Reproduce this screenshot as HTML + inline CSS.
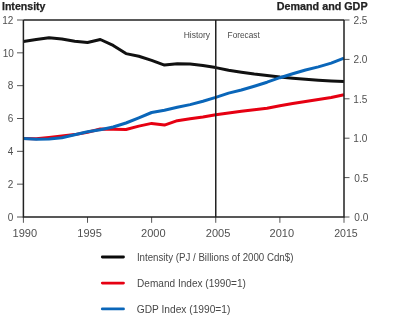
<!DOCTYPE html>
<html><head><meta charset="utf-8"><style>
html,body{margin:0;padding:0;background:#fff;}
svg{display:block;will-change:transform;}
text{font-family:"Liberation Sans",sans-serif;fill:#333;}
.ax{fill:#505050;}
.lg{fill:#484848;}
.sm{fill:#4a4a4a;}
.ttl{font-weight:bold;fill:#222;stroke:#222;stroke-width:0.25px;}
</style></head><body>
<svg width="400" height="322" viewBox="0 0 400 322">
<line x1="17" y1="217.00" x2="23.4" y2="217.00" stroke="#555" stroke-width="1.0"/>
<line x1="17" y1="184.17" x2="23.4" y2="184.17" stroke="#555" stroke-width="1.0"/>
<line x1="17" y1="151.33" x2="23.4" y2="151.33" stroke="#555" stroke-width="1.0"/>
<line x1="17" y1="118.50" x2="23.4" y2="118.50" stroke="#555" stroke-width="1.0"/>
<line x1="17" y1="85.67" x2="23.4" y2="85.67" stroke="#555" stroke-width="1.0"/>
<line x1="17" y1="52.83" x2="23.4" y2="52.83" stroke="#555" stroke-width="1.0"/>
<line x1="17" y1="20.00" x2="23.4" y2="20.00" stroke="#555" stroke-width="1.0"/>
<line x1="344.0" y1="217.00" x2="349.5" y2="217.00" stroke="#555" stroke-width="1.0"/>
<line x1="344.0" y1="177.60" x2="349.5" y2="177.60" stroke="#555" stroke-width="1.0"/>
<line x1="344.0" y1="138.20" x2="349.5" y2="138.20" stroke="#555" stroke-width="1.0"/>
<line x1="344.0" y1="98.80" x2="349.5" y2="98.80" stroke="#555" stroke-width="1.0"/>
<line x1="344.0" y1="59.40" x2="349.5" y2="59.40" stroke="#555" stroke-width="1.0"/>
<line x1="344.0" y1="20.00" x2="349.5" y2="20.00" stroke="#555" stroke-width="1.0"/>
<line x1="23.40" y1="217.0" x2="23.40" y2="222.8" stroke="#555" stroke-width="1.0"/>
<line x1="87.52" y1="217.0" x2="87.52" y2="222.8" stroke="#555" stroke-width="1.0"/>
<line x1="151.64" y1="217.0" x2="151.64" y2="222.8" stroke="#555" stroke-width="1.0"/>
<line x1="215.76" y1="217.0" x2="215.76" y2="222.8" stroke="#555" stroke-width="1.0"/>
<line x1="279.88" y1="217.0" x2="279.88" y2="222.8" stroke="#555" stroke-width="1.0"/>
<line x1="344.00" y1="217.0" x2="344.00" y2="222.8" stroke="#555" stroke-width="1.0"/>
<line x1="23.4" y1="20.0" x2="344.0" y2="20.0" stroke="#222" stroke-width="1.5"/>
<polyline points="23.40,41.60 36.22,39.60 49.05,37.70 61.87,38.90 74.70,41.20 87.52,42.50 100.34,39.50 113.17,45.40 125.99,53.60 138.82,56.30 151.64,60.40 164.46,65.10 177.29,63.80 190.11,64.00 202.94,65.50 215.76,67.60 228.58,70.30 241.41,72.20 254.23,74.00 267.06,75.50 279.88,77.00 292.70,78.20 305.53,79.30 318.35,80.20 331.18,80.90 344.00,81.60" fill="none" stroke="#111" stroke-width="3" stroke-linejoin="round"/>
<polyline points="23.40,138.60 36.22,138.70 49.05,137.40 61.87,136.00 74.70,134.60 87.52,132.20 100.34,129.00 113.17,129.20 125.99,129.50 138.82,126.10 151.64,123.40 164.46,125.10 177.29,120.70 190.11,118.70 202.94,117.00 215.76,114.70 228.58,112.90 241.41,111.30 254.23,109.80 267.06,108.30 279.88,105.80 292.70,103.60 305.53,101.60 318.35,99.40 331.18,97.50 344.00,94.75" fill="none" stroke="#e60012" stroke-width="3" stroke-linejoin="round"/>
<polyline points="23.40,138.50 36.22,139.20 49.05,139.10 61.87,137.80 74.70,134.80 87.52,131.80 100.34,129.80 113.17,127.00 125.99,123.00 138.82,117.90 151.64,112.50 164.46,110.25 177.29,107.30 190.11,104.60 202.94,101.20 215.76,97.40 228.58,93.10 241.41,90.00 254.23,86.25 267.06,82.20 279.88,77.70 292.70,73.70 305.53,70.00 318.35,66.90 331.18,63.10 344.00,58.10" fill="none" stroke="#0a66b9" stroke-width="3" stroke-linejoin="round"/>
<line x1="215.76" y1="20.0" x2="215.76" y2="217.0" stroke="#222" stroke-width="1.5"/>
<polyline points="23.4,20.0 23.4,217.0 344.0,217.0 344.0,20.0" fill="none" stroke="#222" stroke-width="1.5"/>
<line x1="102.3" y1="257.0" x2="123.5" y2="257.0" stroke="#0a0a0a" stroke-width="2.8" stroke-linecap="round"/>
<line x1="102.3" y1="283.1" x2="123.5" y2="283.1" stroke="#e60012" stroke-width="2.8" stroke-linecap="round"/>
<line x1="102.3" y1="308.9" x2="123.5" y2="308.9" stroke="#0a66b9" stroke-width="2.8" stroke-linecap="round"/>
<text id="L0" x="7.80" y="221.00" font-size="10.0" class="ax">0</text>
<text id="L2" x="7.80" y="188.00" font-size="10.0" class="ax">2</text>
<text id="L4" x="7.80" y="155.00" font-size="10.0" class="ax">4</text>
<text id="L6" x="7.80" y="122.00" font-size="10.0" class="ax">6</text>
<text id="L8" x="7.80" y="89.00" font-size="10.0" class="ax">8</text>
<text id="L10" x="2.80" y="57.00" font-size="10.0" class="ax">10</text>
<text id="L12" x="2.30" y="24.00" font-size="10.0" class="ax">12</text>
<text id="R0.0" x="354.36" y="221.00" font-size="10.0" class="ax" textLength="14.00" lengthAdjust="spacingAndGlyphs">0.0</text>
<text id="R0.5" x="354.36" y="181.60" font-size="10.0" class="ax" textLength="14.00" lengthAdjust="spacingAndGlyphs">0.5</text>
<text id="R1.0" x="353.30" y="142.20" font-size="10.0" class="ax" textLength="14.00" lengthAdjust="spacingAndGlyphs">1.0</text>
<text id="R1.5" x="353.30" y="102.80" font-size="10.0" class="ax" textLength="14.00" lengthAdjust="spacingAndGlyphs">1.5</text>
<text id="R2.0" x="353.41" y="63.40" font-size="10.0" class="ax" textLength="14.00" lengthAdjust="spacingAndGlyphs">2.0</text>
<text id="R2.5" x="353.41" y="24.00" font-size="10.0" class="ax" textLength="14.00" lengthAdjust="spacingAndGlyphs">2.5</text>
<text id="X1990" x="12.56" y="236.60" font-size="10.5" class="ax" textLength="24.59" lengthAdjust="spacingAndGlyphs">1990</text>
<text id="X1995" x="77.29" y="236.60" font-size="10.5" class="ax" textLength="24.59" lengthAdjust="spacingAndGlyphs">1995</text>
<text id="X2000" x="141.03" y="236.60" font-size="10.5" class="ax" textLength="24.59" lengthAdjust="spacingAndGlyphs">2000</text>
<text id="X2005" x="205.76" y="236.60" font-size="10.5" class="ax" textLength="24.59" lengthAdjust="spacingAndGlyphs">2005</text>
<text id="X2010" x="269.51" y="236.60" font-size="10.5" class="ax" textLength="24.54" lengthAdjust="spacingAndGlyphs">2010</text>
<text id="X2015" x="334.24" y="236.60" font-size="10.5" class="ax" textLength="23.52" lengthAdjust="spacingAndGlyphs">2015</text>
<text id="History" x="183.74" y="38.30" font-size="9.4" class="sm" textLength="26.37" lengthAdjust="spacingAndGlyphs">History</text>
<text id="Forecast" x="227.61" y="38.30" font-size="9.4" class="sm" textLength="32.12" lengthAdjust="spacingAndGlyphs">Forecast</text>
<text id="Intensity" x="1.98" y="10.40" font-size="10.3" class="ttl" textLength="43.52" lengthAdjust="spacingAndGlyphs">Intensity</text>
<text id="DemandGDP" x="276.75" y="10.00" font-size="10.3" class="ttl" textLength="90.80" lengthAdjust="spacingAndGlyphs">Demand and GDP</text>
<text id="lg1" x="136.88" y="260.60" font-size="10.4" class="lg" textLength="156.52" lengthAdjust="spacingAndGlyphs">Intensity (PJ / Billions of 2000 Cdn$)</text>
<text id="lg2" x="137.09" y="286.70" font-size="10.4" class="lg" textLength="108.81" lengthAdjust="spacingAndGlyphs">Demand Index (1990=1)</text>
<text id="lg3" x="136.81" y="312.80" font-size="10.4" class="lg" textLength="93.59" lengthAdjust="spacingAndGlyphs">GDP Index (1990=1)</text>
</svg>
</body></html>
